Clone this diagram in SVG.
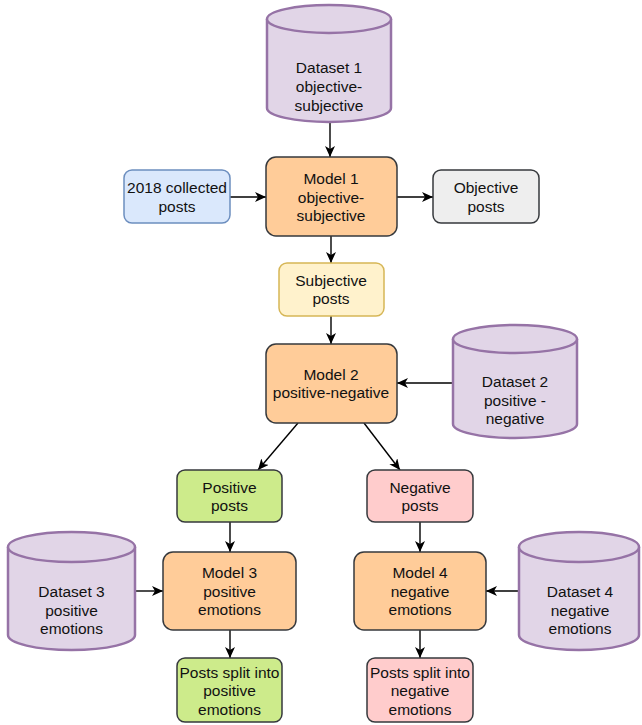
<svg xmlns="http://www.w3.org/2000/svg" width="642" height="725" viewBox="0 0 642 725">
<style>
text{font-family:"Liberation Sans",Arial,Helvetica,sans-serif;font-size:15.5px;fill:#111;text-anchor:middle}
.model{fill:#ffcc99;stroke:#36393d;stroke-width:1.5}
.db{fill:#e1d5e7;stroke:#9673a6;stroke-width:2.5}
.blue{fill:#dae8fc;stroke:#6c8ebf;stroke-width:1.5}
.grey{fill:#eeeeee;stroke:#36393d;stroke-width:1.5}
.yellow{fill:#fff2cc;stroke:#d6b656;stroke-width:1.5}
.green{fill:#cdeb8b;stroke:#36393d;stroke-width:1.5}
.red{fill:#ffcccc;stroke:#36393d;stroke-width:1.5}
.edge{fill:none;stroke:#000;stroke-width:1.4;marker-end:url(#arr)}
</style>
<defs>
<marker id="arr" markerUnits="userSpaceOnUse" markerWidth="12" markerHeight="10" refX="11" refY="5" orient="auto">
<path d="M0,0 L11,5 L0,10 L3,5 Z" fill="#000"/>
</marker>
</defs>
<g id="connectors">
<path class="edge" d="M330,122 V157"/>
<path class="edge" d="M230,197 H266"/>
<path class="edge" d="M397,197 H433"/>
<path class="edge" d="M331,236 V263"/>
<path class="edge" d="M331,316 V344"/>
<path class="edge" d="M453,383 H397"/>
<path class="edge" d="M298,423 L258,470"/>
<path class="edge" d="M364,423 L400,470"/>
<path class="edge" d="M230,522 V552"/>
<path class="edge" d="M420,522 V552"/>
<path class="edge" d="M135,591 H163"/>
<path class="edge" d="M519,591 H486"/>
<path class="edge" d="M230,630 V658"/>
<path class="edge" d="M420,630 V658"/>
</g>
<g id="dataset1">
<path class="db" d="M267,19 a62,14 0 0 1 124,0 v89 a62,14 0 0 1 -124,0 Z"/>
<path class="db" fill="none" d="M267,19 a62,14 0 0 0 124,0"/>
<text x="329" y="73">Dataset 1</text>
<text x="329" y="92">objective-</text>
<text x="329" y="111">subjective</text>
</g>
<g id="collected">
<rect class="blue" x="124" y="170" width="106" height="53" rx="8"/>
<text x="177" y="193">2018 collected</text>
<text x="177" y="211.5">posts</text>
</g>
<g id="model1">
<rect class="model" x="266" y="157" width="131" height="79" rx="10"/>
<text x="331" y="184">Model 1</text>
<text x="331" y="202.5">objective-</text>
<text x="331" y="221">subjective</text>
</g>
<g id="objective">
<rect class="grey" x="433" y="170" width="106" height="53" rx="8"/>
<text x="486" y="193">Objective</text>
<text x="486" y="211.5">posts</text>
</g>
<g id="subjective">
<rect class="yellow" x="279" y="263" width="105" height="53" rx="8"/>
<text x="331" y="285.5">Subjective</text>
<text x="331" y="304">posts</text>
</g>
<g id="model2">
<rect class="model" x="266" y="344" width="131" height="79" rx="10"/>
<text x="331" y="379.5">Model 2</text>
<text x="331" y="398">positive-negative</text>
</g>
<g id="dataset2">
<path class="db" d="M453,339 a62,14 0 0 1 124,0 v85 a62,14 0 0 1 -124,0 Z"/>
<path class="db" fill="none" d="M453,339 a62,14 0 0 0 124,0"/>
<text x="515" y="387">Dataset 2</text>
<text x="515" y="405.5">positive -</text>
<text x="515" y="424">negative</text>
</g>
<g id="positive">
<rect class="green" x="177" y="470" width="105" height="52" rx="8"/>
<text x="229.5" y="492.5">Positive</text>
<text x="229.5" y="511">posts</text>
</g>
<g id="negative">
<rect class="red" x="367" y="470" width="106" height="52" rx="8"/>
<text x="420" y="492.5">Negative</text>
<text x="420" y="511">posts</text>
</g>
<g id="dataset3">
<path class="db" d="M8,547 a63.5,15 0 0 1 127,0 v88 a63.5,15 0 0 1 -127,0 Z"/>
<path class="db" fill="none" d="M8,547 a63.5,15 0 0 0 127,0"/>
<text x="71.5" y="597">Dataset 3</text>
<text x="71.5" y="615.5">positive</text>
<text x="71.5" y="634">emotions</text>
</g>
<g id="model3">
<rect class="model" x="163" y="552" width="133" height="78" rx="10"/>
<text x="229.5" y="578">Model 3</text>
<text x="229.5" y="596.5">positive</text>
<text x="229.5" y="615">emotions</text>
</g>
<g id="model4">
<rect class="model" x="354" y="552" width="132" height="78" rx="10"/>
<text x="420" y="578">Model 4</text>
<text x="420" y="596.5">negative</text>
<text x="420" y="615">emotions</text>
</g>
<g id="dataset4">
<path class="db" d="M519,547 a60,15 0 0 1 120,0 v88 a60,15 0 0 1 -120,0 Z"/>
<path class="db" fill="none" d="M519,547 a60,15 0 0 0 120,0"/>
<text x="580" y="597">Dataset 4</text>
<text x="580" y="615.5">negative</text>
<text x="580" y="634">emotions</text>
</g>
<g id="split-positive">
<rect class="green" x="177" y="658" width="105" height="64" rx="8"/>
<text x="229.5" y="677.5">Posts split into</text>
<text x="229.5" y="696">positive</text>
<text x="229.5" y="714.5">emotions</text>
</g>
<g id="split-negative">
<rect class="red" x="367" y="658" width="106" height="64" rx="8"/>
<text x="420" y="677.5">Posts split into</text>
<text x="420" y="696">negative</text>
<text x="420" y="714.5">emotions</text>
</g>
</svg>
